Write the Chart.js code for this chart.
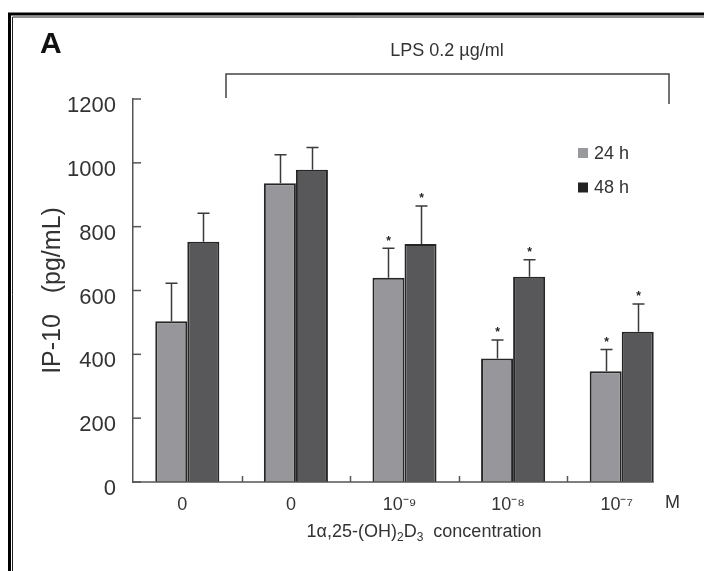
<!DOCTYPE html>
<html><head><meta charset="utf-8">
<script src="https://cdn.jsdelivr.net/npm/chart.js@4.4.0/dist/chart.umd.min.js"></script>
<style>html,body{margin:0;padding:0;background:#fff;} canvas{display:block;}</style>
</head><body>
<canvas id="c" width="704" height="571"></canvas>
<script>
// ---- data ----
const categories = ['0', '0', '10\u207B\u2079', '10\u207B\u2078', '10\u207B\u2077'];
const seriesLabels = ['24 h', '48 h'];
const values24h = [504, 936, 640, 387, 347];
const values48h = [753, 978, 746, 643, 471];
const err24h = [119, 89, 92, 58, 68];
const err48h = [89, 70, 119, 53, 87];
const sig24h = [false, false, true, true, true];
const sig48h = [false, false, true, true, true];
const yTicks = [0, 200, 400, 600, 800, 1000, 1200];
const unitLabel = 'M';
const yTitle = 'IP-10   (pg/mL)';
const treatmentLabel = 'LPS 0.2 \u00B5g/ml';
const panelLabel = 'A';

const FONT = "'Liberation Sans', Arial, Helvetica, sans-serif";
const TXT = '#333';
const errs = [err24h, err48h];
const sigs = [sig24h, sig48h];
const legendColors = ['#9a9a9e', '#222222'];

const decor = {
  id: 'decor',
  beforeDraw(chart) {
    const ctx = chart.ctx;
    ctx.save();
    ctx.fillStyle = '#fff';
    ctx.fillRect(0, 0, chart.width, chart.height);
    ctx.strokeStyle = '#000';
    ctx.lineWidth = 3;
    ctx.beginPath();
    ctx.moveTo(9.5, chart.height + 5); ctx.lineTo(9.5, 14); ctx.lineTo(chart.width + 5, 14);
    ctx.stroke();
    ctx.lineWidth = 1;
    ctx.strokeStyle = '#222';
    ctx.beginPath();
    ctx.moveTo(12.5, chart.height + 5); ctx.lineTo(12.5, 17); ctx.lineTo(chart.width + 5, 17);
    ctx.stroke();
    ctx.restore();
  },
  afterDatasetsDraw(chart) {
    const ctx = chart.ctx;
    const y = chart.scales.y;
    ctx.save();
    ctx.strokeStyle = '#3a3a3a';
    ctx.lineWidth = 1.5;
    chart.data.datasets.forEach((ds, di) => {
      const meta = chart.getDatasetMeta(di);
      meta.data.forEach((bar, i) => {
        const v = ds.data[i];
        const top = y.getPixelForValue(v + errs[di][i]);
        const x = Math.round(bar.x) + 0.5;
        ctx.beginPath();
        ctx.moveTo(x, bar.y); ctx.lineTo(x, top);
        ctx.moveTo(x - 6, top); ctx.lineTo(x + 6, top);
        ctx.stroke();
        if (sigs[di][i]) {
          ctx.fillStyle = '#222';
          ctx.font = 'bold 12px ' + FONT;
          ctx.textAlign = 'center';
          ctx.textBaseline = 'middle';
          ctx.fillText('*', x, top - 7);
        }
      });
    });
    ctx.restore();
  },
  afterDraw(chart) {
    const ctx = chart.ctx;
    const xs = chart.scales.x, ys = chart.scales.y;
    const a = chart.chartArea;
    ctx.save();
    ctx.strokeStyle = '#555';
    ctx.lineWidth = 1.5;
    ys.ticks.forEach(t => {
      const py = ys.getPixelForValue(t.value);
      ctx.beginPath(); ctx.moveTo(a.left, py); ctx.lineTo(a.left + 8, py); ctx.stroke();
    });
    const lastMeta = chart.getDatasetMeta(chart.data.datasets.length - 1);
    const lastBar = lastMeta.data[lastMeta.data.length - 1];
    const base = ys.getPixelForValue(0);
    ctx.beginPath(); ctx.moveTo(a.left, base); ctx.lineTo(lastBar.x + lastBar.width / 2, base); ctx.stroke();
    for (let i = 0; i < categories.length - 1; i++) {
      const px = Math.round((xs.getPixelForTick(i) + xs.getPixelForTick(i + 1)) / 2) + 0.5;
      ctx.beginPath(); ctx.moveTo(px, base); ctx.lineTo(px, base - 6); ctx.stroke();
    }
    ctx.fillStyle = TXT;
    ctx.font = '18px ' + FONT;
    ctx.textAlign = 'center';
    ctx.textBaseline = 'middle';
    ctx.fillText(unitLabel, 672.5, 503);
    const segs = [['1\u03B1,25-(OH)', 0], ['2', 1], ['D', 0], ['3', 1], ['  concentration', 0]];
    const mainF = '18px ' + FONT, subF = '12px ' + FONT;
    let total = 0;
    segs.forEach(s => { ctx.font = s[1] ? subF : mainF; total += ctx.measureText(s[0]).width; });
    let cx = 424 - total / 2;
    ctx.textAlign = 'left';
    ctx.textBaseline = 'alphabetic';
    segs.forEach(s => {
      ctx.font = s[1] ? subF : mainF;
      ctx.fillText(s[0], cx, s[1] ? 541 : 537);
      cx += ctx.measureText(s[0]).width;
    });
    chart.data.datasets.forEach((ds, di) => {
      const cy = 153 + di * 34.5;
      ctx.fillStyle = legendColors[di];
      ctx.fillRect(578, cy - 5, 10, 10);
      ctx.fillStyle = TXT;
      ctx.font = '18px ' + FONT;
      ctx.textBaseline = 'middle';
      ctx.fillText(ds.label, 594, cy + 1);
    });
    ctx.fillStyle = '#111';
    ctx.font = 'bold 30px ' + FONT;
    ctx.textBaseline = 'alphabetic';
    ctx.fillText(panelLabel, 40, 53);
    ctx.fillStyle = TXT;
    ctx.font = '18px ' + FONT;
    ctx.textAlign = 'center';
    ctx.fillText(treatmentLabel, 447, 56);
    ctx.strokeStyle = '#444';
    ctx.lineWidth = 1.5;
    ctx.beginPath();
    ctx.moveTo(226, 98); ctx.lineTo(226, 74); ctx.lineTo(669, 74); ctx.lineTo(669, 104);
    ctx.stroke();
    ctx.restore();
  }
};

new Chart(document.getElementById('c'), {
  type: 'bar',
  data: {
    labels: categories,
    datasets: [
      { label: seriesLabels[0], data: values24h, backgroundColor: '#97979b', borderColor: '#262626', borderWidth: 2 },
      { label: seriesLabels[1], data: values48h, backgroundColor: '#58585a', borderColor: '#262626', borderWidth: 2 }
    ]
  },
  options: {
    responsive: false,
    animation: false,
    devicePixelRatio: 1,
    layout: { padding: { left: 0, top: 99, right: 28, bottom: 0 } },
    datasets: { bar: { categoryPercentage: 0.59, barPercentage: 1.0 } },
    plugins: { legend: { display: false }, tooltip: { enabled: false } },
    scales: {
      x: {
        grid: { display: false },
        border: { display: false },
        ticks: { font: { size: 18, family: FONT }, color: TXT, padding: 4, labelOffset: -5, maxRotation: 0 },
        afterFit: s => { s.height = 89; }
      },
      y: {
        min: 0, max: 1200,
        grid: { display: false, drawTicks: false },
        border: { display: true, color: '#555', width: 1.5 },
        ticks: { font: { size: 22, family: FONT }, color: TXT, padding: 17, labelOffset: 7, callback: v => String(v) },
        afterBuildTicks: s => { s.ticks = yTicks.map(v => ({ value: v })); },
        title: { display: true, text: yTitle, font: { size: 25, family: FONT }, color: TXT, padding: { top: 38, bottom: 0 } },
        afterFit: s => { s.width = 133; }
      }
    }
  },
  plugins: [decor]
});
</script>
</body></html>
